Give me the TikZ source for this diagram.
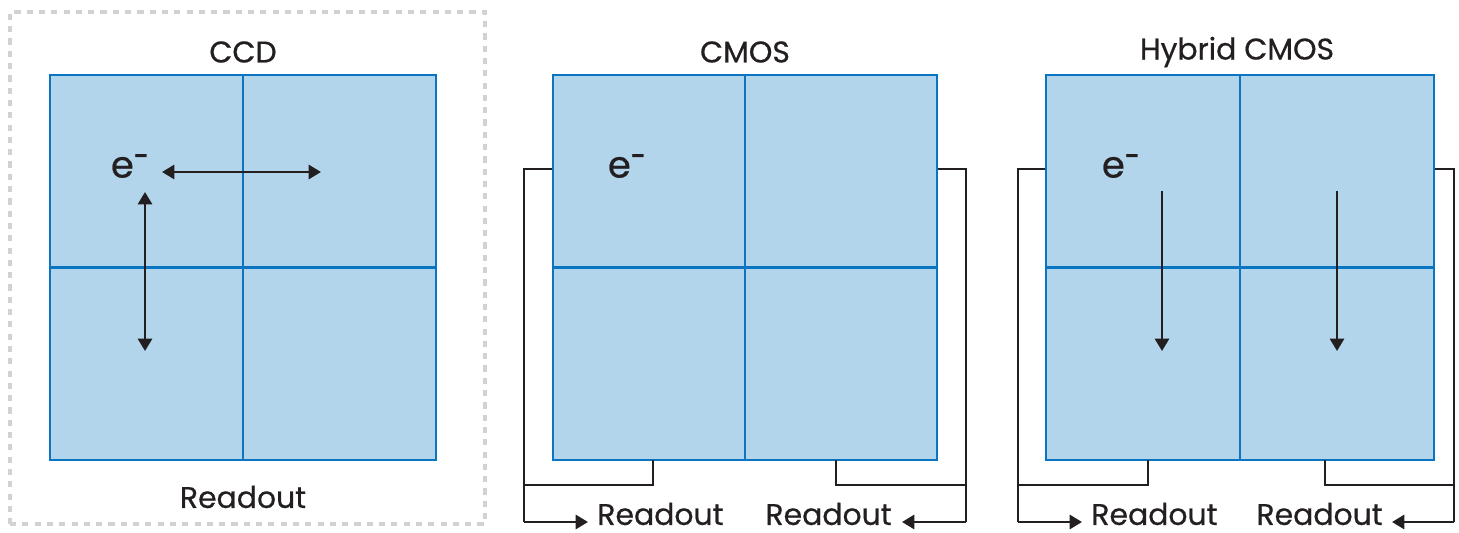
\documentclass[tikz,border=0pt]{standalone}
\usepackage{fontspec}
\setmainfont{Poppins}
\newfontfamily\lblfont{Poppins}[FakeBold=0.6]
\usetikzlibrary{arrows.meta}
\definecolor{cellfill}{HTML}{B3D5EB}
\definecolor{cellline}{HTML}{0A76C2}
\definecolor{wire}{HTML}{231F20}
\definecolor{dotgrey}{HTML}{D2D2D2}
\tikzset{
  px/.style={x=0.02cm,y=-0.02cm},
  sensor/.style={draw=cellline,fill=cellfill,line width=1.6pt,minimum width=7.72cm,minimum height=7.7cm,inner sep=0pt},
  gridline/.style={draw=cellline,line width=1.6pt},
  wireline/.style={draw=wire,line width=1.5pt},
  arr/.style={wireline,-{Triangle[length=7pt,width=8pt]}},
  darr/.style={wireline,{Triangle[length=7pt,width=8pt]}-{Triangle[length=7pt,width=8pt]}},
  lbl/.style={font=\lblfont\fontsize{17}{20}\selectfont,text=wire,inner sep=0pt},
  eminus/.style={font=\lblfont\fontsize{21}{24}\selectfont,text=wire,inner sep=0pt}
}
\newcommand{\elec}{e\raisebox{0.42ex}{\scalebox{0.75}[1]{-}}}
\begin{document}
\begin{tikzpicture}[px]
\useasboundingbox (0,0) rectangle (1459,533);
% CCD frame
\node[draw=dotgrey,line width=2.2pt,dash pattern=on 3.5pt off 3.5pt,minimum width=9.5cm,minimum height=10.24cm,inner sep=0pt] (frame) at (247.5,268) {};
% grids
\node[sensor] (g1) at (243,267.5) {};
\node[sensor,minimum width=7.68cm] (g2) at (745,267.5) {};
\node[sensor,minimum width=7.76cm] (g3) at (1240,267.5) {};
\foreach \g in {g1,g2,g3}{
  \draw[gridline] (\g.north) -- (\g.south);
  \draw[gridline] (\g.west) -- (\g.east);
}
% titles
\node[lbl] (t1) at (243,52) {CCD};
\node[lbl] (t2) at (745,52) {CMOS};
\node[lbl] (t3) at (1237,52) {Hybrid CMOS};
\node[lbl] (r1) at (243,497) {Readout};
% electrons
\node[eminus] (e1) at (130,166) {\elec};
\node[eminus] (e2) at (627,166) {\elec};
\node[eminus] (e3) at (1121,166) {\elec};
% CCD arrows
\coordinate (h1) at (162,172); \coordinate (h2) at (321,172);
\coordinate (v1) at (145,192); \coordinate (v2) at (145,351);
\draw[darr] (h1) -- (h2);
\draw[darr] (v1) -- (v2);
% Hybrid arrows
\coordinate (a1) at (1162,191); \coordinate (a2) at (1162,351);
\coordinate (b1) at (1337,191); \coordinate (b2) at (1337,351);
\draw[arr] (a1) -- (a2);
\draw[arr] (b1) -- (b2);
% CMOS readout
\node[lbl,anchor=west] (r2) at (597,514) {Readout};
\node[lbl,anchor=east] (r3) at (892,514) {Readout};
\coordinate (p2l) at (588,522); \coordinate (p2r) at (902,522);
\draw[wireline] (g2.west |- 0,169) -- (524,169) -- (524,522) coordinate (c2l);
\draw[arr] (c2l) -- (p2l);
\draw[wireline] (653,460) -- (653,485) -- (524,485);
\draw[wireline] (g2.east |- 0,169) -- (966,169) -- (966,522) coordinate (c2r);
\draw[arr] (c2r) -- (p2r);
\draw[wireline] (836,460) -- (836,485) -- (966,485);
% Hybrid readout
\node[lbl,anchor=west] (r4) at (1091,514) {Readout};
\node[lbl,anchor=east] (r5) at (1383,514) {Readout};
\coordinate (p3l) at (1082,522); \coordinate (p3r) at (1392,522);
\draw[wireline] (g3.west |- 0,169) -- (1018,169) -- (1018,522) coordinate (c3l);
\draw[arr] (c3l) -- (p3l);
\draw[wireline] (1148,460) -- (1148,485) -- (1018,485);
\draw[wireline] (g3.east |- 0,169) -- (1454,169) -- (1454,522) coordinate (c3r);
\draw[arr] (c3r) -- (p3r);
\draw[wireline] (1325,460) -- (1325,485) -- (1454,485);
\end{tikzpicture}
\end{document}
